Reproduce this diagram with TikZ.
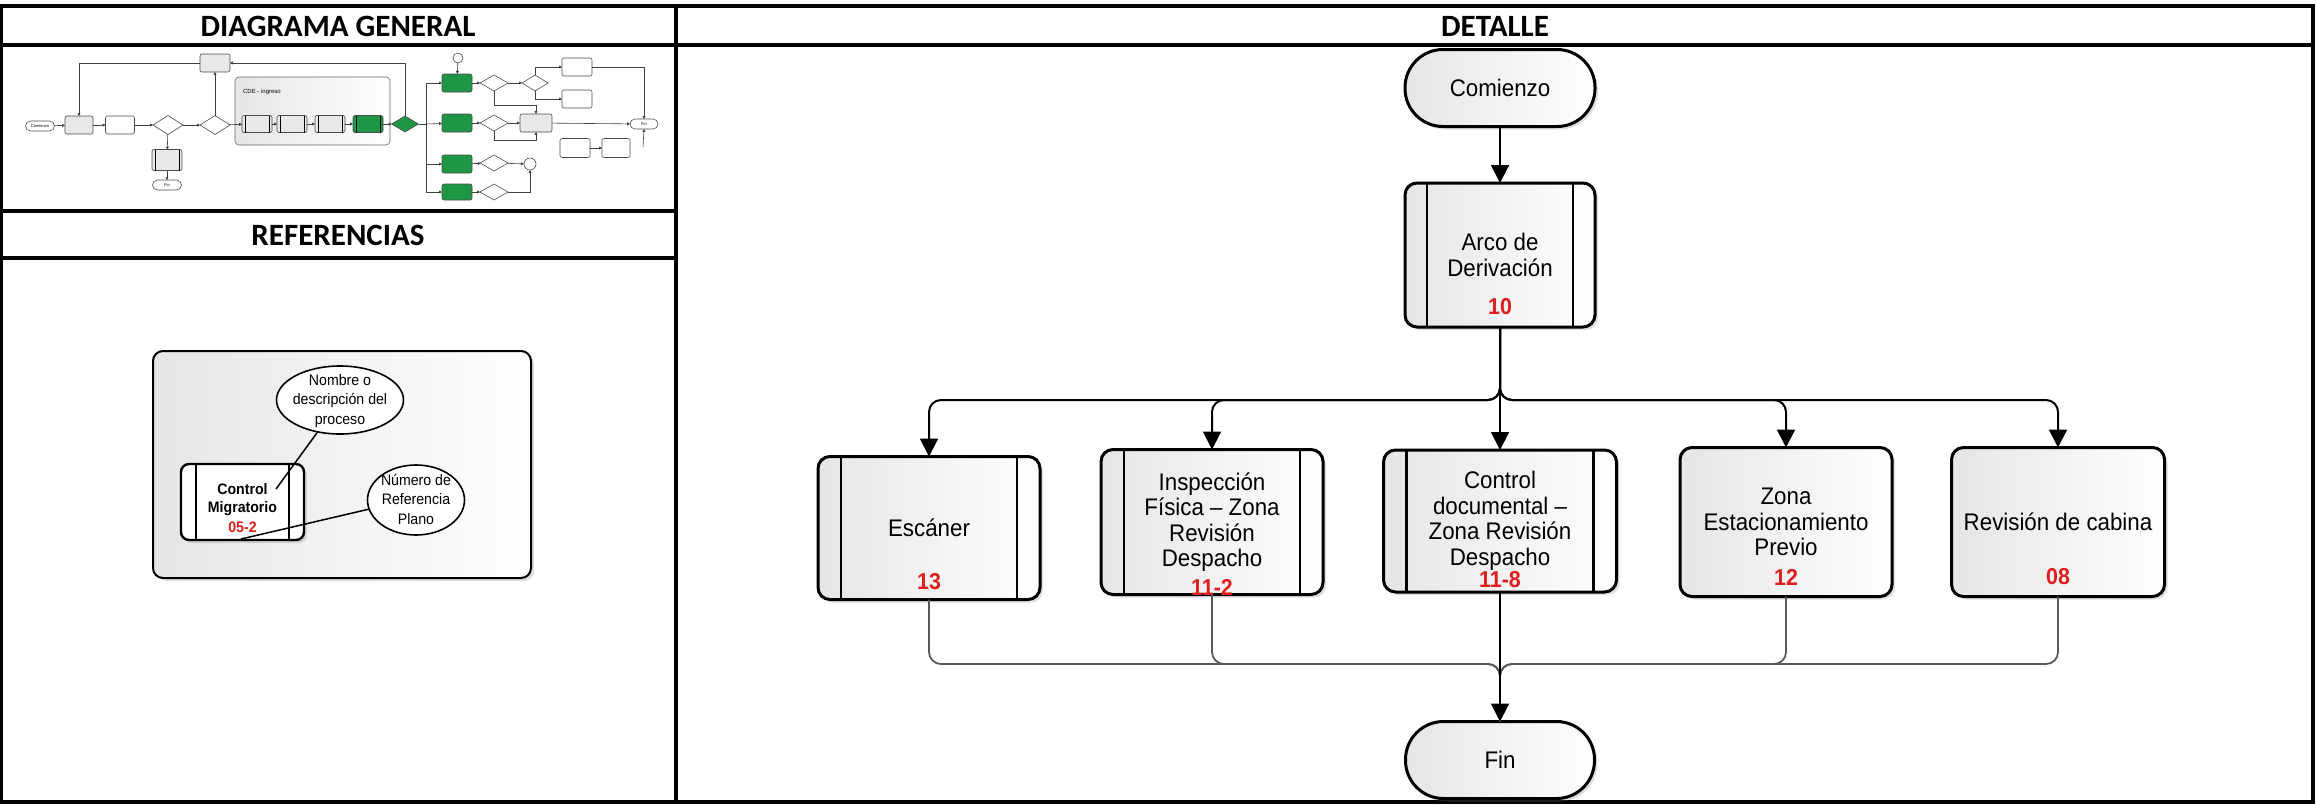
\documentclass[tikz,border=0pt]{standalone}
\usepackage{fontspec}
\setmainfont{Liberation Sans}
\newfontfamily\hdrfont{Carlito}
\newfontfamily\boxfont[FakeStretch=0.93]{Liberation Sans}
\usetikzlibrary{arrows.meta,shapes.geometric,shadows}
\definecolor{numred}{RGB}{225,30,30}
\definecolor{tgreen}{RGB}{30,150,70}
\newcommand{\sublines}[3]{%
  \draw[line width=#3] ([xshift=#2]#1.north west) -- ([xshift=#2]#1.south west);
  \draw[line width=#3] ([xshift=-#2]#1.north east) -- ([xshift=-#2]#1.south east);}
\begin{document}
\begin{tikzpicture}[x=0.5pt,y=-0.5pt,
  every node/.style={inner sep=0pt,outer sep=0pt},
  frame/.style={line width=1.8pt},
  hdr/.style={font=\hdrfont\bfseries\fontsize{15.5}{17}\selectfont},
  shade/.style={left color=gray!20,right color=white},
  shad/.style={drop shadow={opacity=0.25,shadow xshift=1.5pt,shadow yshift=-1.5pt}},
  proc/.style={draw=black,line width=1.5pt,rounded corners=6pt,shade,shad,align=center,
    font=\boxfont\fontsize{12}{12.75}\selectfont},
  term/.style={draw=black,line width=1.5pt,rounded corners=19pt,shade,shad,
    font=\boxfont\fontsize{12}{12.75}\selectfont},
  num/.style={text=numred,font=\boxfont\bfseries\fontsize{11.5}{12}\selectfont},
  conn/.style={draw=black,line width=1pt,-{Triangle[length=9pt,width=9pt]}},
  merge/.style={draw=black!65,line width=0.9pt},
  reflink/.style={draw=black,line width=0.75pt},
  tb/.style={draw=black!70,line width=0.3pt,rounded corners=1pt,fill=gray!18,
    minimum width=15pt,minimum height=9pt},
  tw/.style={tb,fill=white},
  tg/.style={tb,fill=tgreen},
  td/.style={diamond,draw=black!70,line width=0.3pt,fill=white,aspect=1.7,
    minimum width=14pt,minimum height=8pt},
  toval/.style={draw=black!70,line width=0.3pt,rounded corners=2.5pt,fill=white,
    minimum width=14.5pt,minimum height=5pt,font=\fontsize{2}{2}\selectfont},
  tc/.style={circle,draw=black!70,line width=0.3pt,fill=white,minimum size=5pt},
  tl/.style={draw=black!75,line width=0.3pt,-{Triangle[length=1.4pt,width=1.4pt]}},
  tln/.style={draw=black!75,line width=0.3pt}
]
\useasboundingbox (0,0) rectangle (2317,804);

% ---------- table frame ----------
\draw[frame] (1,6) rectangle (2313,802);
\draw[frame] (1,45) -- (2313,45);
\draw[frame] (676,6) -- (676,802);
\draw[frame] (1,211) -- (676,211);
\draw[frame] (1,258) -- (676,258);
\node[hdr] (hgen) at (338,26) {DIAGRAMA GENERAL};
\node[hdr] (href) at (338,235) {REFERENCIAS};
\node[hdr] (hdet) at (1495,26) {DETALLE};

% ---------- thumbnail (diagrama general) ----------
\node[toval] (tcom) at (40,126) {Comienzo};
\node[tb,minimum width=14pt] (tb1) at (79,125) {};
\node[tw,minimum width=14.5pt] (tb2) at (120,125) {};
\node[td,minimum width=15pt,minimum height=9.5pt] (td1) at (168,125) {};
\node[td,minimum width=15pt,minimum height=9.5pt] (td2) at (215,125) {};
\node[tb,minimum height=10.5pt] (tb3) at (167,160) {};
\node[toval] (tfin1) at (167,185) {Fin};
\node[tb] (tb4) at (215,63) {};
\node[draw=black!60,line width=0.3pt,rounded corners=2pt,shade,minimum width=77.5pt,minimum height=34pt] (tpan) at (312.5,111) {};
\node[font=\fontsize{3}{3}\selectfont] (tpanl) at (262,92) {CDE - ingreso};
\node[tb,minimum height=8.5pt] (ts1) at (257,124) {};
\node[tb,minimum height=8.5pt] (ts2) at (292,124) {};
\node[tb,minimum height=8.5pt] (ts3) at (330,124) {};
\node[tg,minimum height=8.5pt] (tg0) at (368,124) {};
\node[td,fill=tgreen,minimum width=13.5pt,minimum height=8pt] (tgd) at (405,124) {};
\node[tg] (tgA) at (457,83) {};
\node[tg] (tgB) at (457,123) {};
\node[tg] (tgC) at (457,164) {};
\node[tg,minimum height=8pt] (tgD) at (457,192) {};
\node[tc] (tc1) at (458,58) {};
\node[td] (tdA) at (494,83) {};
\node[td] (tdB) at (494,123) {};
\node[td] (tdC) at (494,163) {};
\node[td] (tdD) at (494,192) {};
\node[td,minimum width=13pt] (tdS) at (535,83) {};
\node[tw] (tDev) at (577,67) {};
\node[tw] (tIng) at (577,99) {};
\node[tb,minimum width=16pt] (tPago) at (536,123) {};
\node[tc,minimum size=6pt] (tc2) at (530,164) {};
\node[tw,minimum height=9.5pt] (tConv) at (575,148) {};
\node[tw,minimum width=14pt,minimum height=9.5pt] (tX) at (616,148) {};
\node[toval,minimum width=14pt] (tfin2) at (644,124) {Fin};
\foreach \n in {ts1,ts2,ts3,tg0,tb3} {\sublines{\n}{1.5pt}{0.3pt}}
\draw[tl] (tcom) -- (tb1);
\draw[tl] (tb1) -- (tb2);
\draw[tl] (tb2) -- (td1);
\draw[tl] (td1) -- (td2);
\draw[tl] (td2) -- (ts1);
\draw[tl] (ts1) -- (ts2);
\draw[tl] (ts2) -- (ts3);
\draw[tl] (ts3) -- (tg0);
\draw[tl] (tg0) -- (tgd);
\draw[tl] (td1) -- (tb3);
\draw[tl] (tb3) -- (tfin1);
\draw[tl] (td2) -- (tb4);
\draw[tl] (tgd.north) |- (tb4.east);
\draw[tl] (tb4.west) -| (tb1.north);
\coordinate (ttr) at (426,124);
\draw[tln] (tgd) -- (ttr);
\draw[tl] (ttr) |- (tgA);
\draw[tl] (ttr) -- (tgB);
\draw[tl] (ttr) |- (tgC);
\draw[tl] (ttr) |- (tgD);
\draw[tl] (tc1) -- (tgA);
\draw[tl] (tgA) -- (tdA);
\draw[tl] (tgB) -- (tdB);
\draw[tl] (tgC) -- (tdC);
\draw[tl] (tgD) -- (tdD);
\draw[tl] (tdA) -- (tdS);
\draw[tl] (tdS.north) |- (tDev);
\draw[tl] (tdS.south) |- (tIng);
\draw[tl] (tdB) -- (tPago);
\draw[tl] (tPago) -- (tfin2);
\draw[tl] (tdC) -- (tc2);
\draw[tl] (tdD.east) -| (tc2.south);
\draw[tl] (tDev.east) -| (tfin2.north);
\draw[tl] (tConv) -- (tX);
\coordinate (tq1) at (536,105);
\draw[tl] (tdA.south) |- (tq1) -- (tPago.north);
\coordinate (tq2) at (536,140);
\draw[tl] (tdB.south) |- (tq2) -- (tPago.south);
\coordinate (tq3) at (643,147);
\draw[tl] (tq3) -- (tfin2.south);

% ---------- referencias ----------
\node[draw=black,line width=1pt,rounded corners=5pt,shade,shad,minimum width=189pt,minimum height=113.5pt] (rp) at (342,464.5) {};
\node[draw=black,line width=1.2pt,rounded corners=4pt,fill=white,shad,minimum width=61.5pt,minimum height=38pt] (cm) at (242.5,502) {};
\sublines{cm}{7.5pt}{0.9pt}
\node[align=center,font=\boxfont\bfseries\fontsize{7.6}{9}\selectfont] (cmt) at (242.5,500) {Control\\Migratorio};
\node[text=numred,font=\boxfont\bfseries\fontsize{7.6}{9}\selectfont] (cmn) at (242.5,527) {05-2};
\node[ellipse,draw=black,line width=0.8pt,fill=white,minimum width=63.5pt,minimum height=34pt] (e1) at (340,400) {};
\node[align=center,font=\boxfont\fontsize{7.6}{9.75}\selectfont] (e1t) at (340,401) {Nombre o\\descripción del\\proceso};
\node[ellipse,draw=black,line width=0.8pt,fill=white,minimum width=48.5pt,minimum height=35pt] (e2) at (416,500) {};
\node[align=center,font=\boxfont\fontsize{7.6}{9.75}\selectfont] (e2t) at (416,499) {Número de\\Referencia\\Plano};
\coordinate (p1) at (276,489);
\coordinate (p2) at (241,539);
\draw[reflink] (e1.235) -- (p1);
\draw[reflink] (e2.191) -- (p2);

% ---------- detalle ----------
\node[term,minimum width=95pt,minimum height=38.5pt] (com) at (1500,88) {Comienzo};
\node[proc,minimum width=95pt,minimum height=72pt] (arco) at (1500,255) {Arco de\\Derivación};
\node[num] (arcon) at (1500,307) {10};
\node[proc,minimum width=111pt,minimum height=71.5pt] (esc) at (929,528) {Escáner};
\node[num] (escn) at (929,582) {13};
\node[proc,minimum width=111pt,minimum height=72.5pt] (insp) at (1212,522) {Inspección\\Física – Zona\\Revisión\\Despacho};
\node[num] (inspn) at (1212,587) {11-2};
\node[proc,minimum width=116.5pt,minimum height=71pt] (ctrl) at (1500,521) {Control\\documental –\\Zona Revisión\\Despacho};
\node[num] (ctrln) at (1500,580) {11-8};
\node[proc,minimum width=106pt,minimum height=74.5pt] (zona) at (1786,522) {Zona\\Estacionamiento\\Previo};
\node[num] (zonan) at (1786,577) {12};
\node[proc,minimum width=106.5pt,minimum height=74.5pt] (rev) at (2058,522) {Revisión de cabina};
\node[num] (revn) at (2058,577) {08};
\node[term,minimum width=94.5pt,minimum height=38.5pt] (fin) at (1500,760) {Fin};
\sublines{arco}{11pt}{1.2pt}
\sublines{esc}{11.5pt}{1.2pt}
\sublines{insp}{11.5pt}{1.2pt}
\sublines{ctrl}{11.5pt}{1.2pt}

\draw[conn] (com) -- (arco);
\coordinate (br) at (1500,400);
\draw[conn,rounded corners=6pt] (arco.south) -- (br) -| (esc.north);
\draw[conn,rounded corners=6pt] (arco.south) -- (br) -| (insp.north);
\draw[conn,rounded corners=6pt] (arco.south) -- (br) -| (zona.north);
\draw[conn,rounded corners=6pt] (arco.south) -- (br) -| (rev.north);
\draw[conn] (arco) -- (ctrl);

\coordinate (mg) at (1500,664);
\draw[merge,rounded corners=6pt] (esc.south) |- (mg) -- (fin.north);
\draw[merge,rounded corners=6pt] (insp.south) |- (mg) -- (fin.north);
\draw[merge,rounded corners=6pt] (zona.south) |- (mg) -- (fin.north);
\draw[merge,rounded corners=6pt] (rev.south) |- (mg) -- (fin.north);
\draw[conn] (ctrl) -- (fin);
\end{tikzpicture}
\end{document}
